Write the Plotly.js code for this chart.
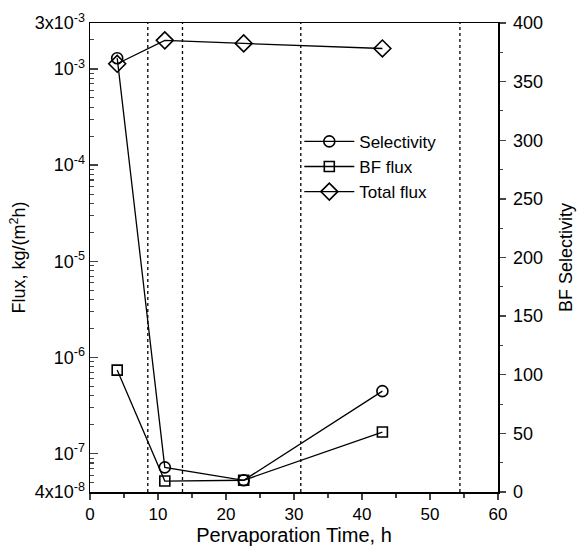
<!DOCTYPE html>
<html>
<head>
<meta charset="utf-8">
<script src="https://cdn.plot.ly/plotly-3.0.1.min.js"></script>
<style>html,body{margin:0;padding:0;background:#fff;}#chart{width:579px;height:546px;}</style>
</head>
<body>
<div id="chart"></div>
<script>
// Data
const timeH = [4, 11, 22.6, 43];
const selectivity = [370, 21, 10, 86];            // right axis, BF selectivity
const bfFlux = [7.4e-7, 5.2e-8, 5.3e-8, 1.68e-7];  // left axis, kg/(m2 h)
const totalFlux = [1.13e-3, 1.98e-3, 1.84e-3, 1.63e-3];
const dottedLines = [8.5, 13.6, 31, 54.4];
const leftTickVals = [3e-3, 1e-3, 1e-4, 1e-5, 1e-6, 1e-7, 4e-8];
const leftTickText = ['3x10<sup>-3</sup>', '10<sup>-3</sup>', '10<sup>-4</sup>', '10<sup>-5</sup>', '10<sup>-6</sup>', '10<sup>-7</sup>', '4x10<sup>-8</sup>'];

const FONT = 'Liberation Sans, Arial, sans-serif';

// minor log ticks
const minorLog = [];
for (let e = -8; e <= -3; e++) {
  for (let m = 2; m <= 9; m++) {
    const v = m * Math.pow(10, e);
    if (v >= 4e-8 && v <= 3e-3) minorLog.push(v);
  }
}

const common = {mode: 'lines+markers', line: {color: '#000', width: 1.3}};
const traces = [
  Object.assign({}, common, {x: timeH, y: selectivity, yaxis: 'y2', name: 'Selectivity',
    marker: {symbol: 'circle-open', size: 11, color: '#000', line: {width: 1.6, color: '#000'}}}),
  Object.assign({}, common, {x: timeH, y: bfFlux, yaxis: 'y', name: 'BF flux',
    marker: {symbol: 'square-open', size: 10, color: '#000', line: {width: 1.6, color: '#000'}}}),
  Object.assign({}, common, {x: timeH, y: totalFlux, yaxis: 'y', name: 'Total flux',
    marker: {symbol: 'diamond-open', size: 13, color: '#000', line: {width: 1.6, color: '#000'}}})
];

const shapes = dottedLines.map(v => ({type: 'line', xref: 'x', yref: 'paper', x0: v, x1: v, y0: 0, y1: 1,
  line: {color: '#000', width: 1.3, dash: 'dot'}}));

const layout = {
  width: 579, height: 546,
  margin: {l: 90, r: 81, t: 23, b: 54},
  paper_bgcolor: '#fff', plot_bgcolor: '#fff',
  font: {family: FONT, color: '#000', size: 17},
  showlegend: true,
  legend: {x: 0.513, y: 0.785, xanchor: 'left', yanchor: 'top', bgcolor: 'rgba(0,0,0,0)',
    font: {family: FONT, size: 17, color: '#000'}, itemwidth: 50, tracegroupgap: 0},
  xaxis: {range: [0, 60], tickvals: [0, 10, 20, 30, 40, 50, 60], ticks: 'outside', ticklen: 6, tickwidth: 1.3,
    showline: true, linecolor: '#000', linewidth: 1.5, mirror: true, showgrid: false, zeroline: false,
    tickfont: {size: 17}, minor: {tickvals: [5, 15, 25, 35, 45, 55], ticks: 'outside', ticklen: 4, tickwidth: 1.2},
    title: {text: 'Pervaporation Time, h', font: {size: 20}, standoff: 6}},
  yaxis: {type: 'log', range: [Math.log10(4e-8), Math.log10(3e-3)], tickvals: leftTickVals, ticktext: leftTickText,
    ticks: 'inside', ticklen: 8, tickwidth: 1.3, showline: true, linecolor: '#000', linewidth: 1.5,
    showgrid: false, zeroline: false, tickfont: {size: 18},
    minor: {tickvals: minorLog, ticks: 'inside', ticklen: 4, tickwidth: 1.1},
    title: {text: 'Flux, kg/(m<sup>2</sup>h)', font: {size: 18}, standoff: 4}},
  yaxis2: {overlaying: 'y', side: 'right', range: [0, 400], tickvals: [0, 50, 100, 150, 200, 250, 300, 350, 400],
    ticks: 'outside', ticklen: 6, tickwidth: 1.3, showline: true, linecolor: '#000', linewidth: 1.5,
    showgrid: false, zeroline: false, tickfont: {size: 18}, ticklabelstandoff: 4,
    minor: {tickvals: [25, 75, 125, 175, 225, 275, 325, 375], ticks: 'outside', ticklen: 3, tickwidth: 1.1},
    title: {text: 'BF Selectivity', font: {size: 18}, standoff: 17}},
  shapes: shapes
};

Plotly.newPlot('chart', traces, layout, {displayModeBar: false, staticPlot: true});
</script>
</body>
</html>
